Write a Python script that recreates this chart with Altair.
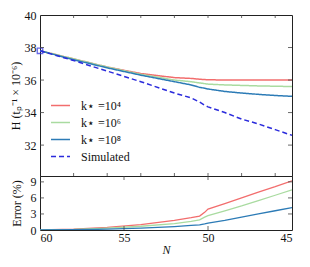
import altair as alt
import pandas as pd

# x positions (N) for all series
N = [60, 58, 56, 54, 52, 51, 50.5, 50.2, 50, 49, 48, 47, 46, 45]

H_sim = [37.8, 37.2, 36.55, 35.9, 35.2, 34.9, 34.65, 34.45, 34.35, 34.0, 33.6, 33.3, 32.95, 32.6]
H_k4 = [37.8, 37.3, 36.8, 36.4, 36.15, 36.1, 36.05, 36.03, 36.02, 36.0, 36.0, 36.0, 36.0, 36.0]
H_k6 = [37.8, 37.3, 36.8, 36.35, 36.0, 35.9, 35.82, 35.78, 35.75, 35.7, 35.67, 35.64, 35.62, 35.6]
H_k8 = [37.8, 37.25, 36.75, 36.3, 35.9, 35.7, 35.55, 35.5, 35.45, 35.3, 35.2, 35.12, 35.05, 35.0]

E_k4 = [0, 0.15, 0.5, 1.0, 1.8, 2.3, 2.6, 3.3, 3.9, 4.95, 6.0, 7.1, 8.1, 9.2]
E_k6 = [0, 0.1, 0.35, 0.7, 1.2, 1.6, 1.9, 2.4, 2.7, 3.6, 4.5, 5.5, 6.5, 7.5]
E_k8 = [0, 0.05, 0.15, 0.35, 0.65, 0.85, 0.95, 1.15, 1.3, 1.8, 2.4, 3.0, 3.6, 4.2]

labels = ["k⋆ =10⁴", "k⋆ =10⁶", "k⋆ =10⁸", "Simulated"]
colors = ["#f26d6d", "#a9dba0", "#2c7bb6", "#2b2bdc"]
dashes = [[1, 0], [1, 0], [1, 0], [5, 3]]

top_xticks = [58, 56, 54, 52, 50, 48, 46]
top_yticks = [32, 34, 36, 38]
top_ylabels = [32, 34, 36, 38, 40]
bot_xticks = [55, 50]
bot_xlabels = [60, 55, 50, 45]
bot_ylabels = [0, 3, 6, 9]
bot_yticks = [3, 6, 9]

W = 252
H_TOP = 161
H_BOT = 54
FONT = "Liberation Serif"

rows = []
for lab, ser in zip(labels, [H_k4, H_k6, H_k8, H_sim]):
    for n, v in zip(N, ser):
        rows.append({"N": n, "H": v, "series": lab})
df_top = pd.DataFrame(rows)

rows = []
for lab, ser in zip(labels[:3], [E_k4, E_k6, E_k8]):
    for n, v in zip(N, ser):
        rows.append({"N": n, "E": v, "series": lab})
df_bot = pd.DataFrame(rows)

xs = alt.Scale(domain=[60, 45])
ys_top = alt.Scale(domain=[30.1, 40], nice=False, zero=False)
ys_bot = alt.Scale(domain=[0, 10.1], nice=False)

color_scale = alt.Scale(domain=labels, range=colors)
dash_scale = alt.Scale(domain=labels, range=dashes)

ax_top_y = alt.Axis(
    values=top_ylabels, ticks=False, domain=False, grid=False, labelOverlap=False,
    labelPadding=4, titlePadding=2, title="H (tₚ⁻¹ × 10⁻⁶)")
ax_bot_x = alt.Axis(
    values=bot_xlabels, ticks=False, domain=False, grid=False, labelOverlap=False,
    labelPadding=2, titlePadding=1, title="N", titleFontStyle="italic")
ax_bot_y = alt.Axis(
    values=bot_ylabels, ticks=False, domain=False, grid=False, labelOverlap=False,
    labelPadding=4, titlePadding=7, title="Error (%)")

legend = alt.Legend(
    title=None, orient="none", legendX=10, legendY=80,
    symbolType="stroke", symbolSize=360, symbolStrokeWidth=1.6,
    labelFont=FONT, labelFontSize=12, rowPadding=0, labelOffset=10,
)

top_lines = alt.Chart(df_top).mark_line(strokeWidth=1.5, clip=True).encode(
    x=alt.X("N:Q", scale=xs, axis=None),
    y=alt.Y("H:Q", scale=ys_top, axis=ax_top_y),
    color=alt.Color("series:N", scale=color_scale, sort=labels, legend=legend),
    strokeDash=alt.StrokeDash("series:N", scale=dash_scale, sort=labels, legend=legend),
    order=alt.Order("N:Q", sort="descending"),
)

marker = alt.Chart(pd.DataFrame({"N": [N[0]], "H": [H_sim[0]]})).mark_point(
    shape="square", filled=False, color=colors[3], size=30, strokeWidth=1.3
).encode(x=alt.X("N:Q", scale=xs, axis=None), y=alt.Y("H:Q", scale=ys_top, axis=ax_top_y))


def xtick_layers(vals, height, length, axis):
    d = pd.DataFrame({"v": vals})
    a = alt.Chart(d).mark_rule(color="#444", strokeWidth=0.8).encode(
        x=alt.X("v:Q", scale=xs, axis=axis), y=alt.value(0), y2=alt.value(length))
    b = alt.Chart(d).mark_rule(color="#444", strokeWidth=0.8).encode(
        x=alt.X("v:Q", scale=xs, axis=axis), y=alt.value(height - length), y2=alt.value(height))
    return [a, b]


def ytick_layers(vals, scale, length, axis):
    d = pd.DataFrame({"v": vals})
    a = alt.Chart(d).mark_rule(color="#444", strokeWidth=0.8).encode(
        y=alt.Y("v:Q", scale=scale, axis=axis), x=alt.value(0), x2=alt.value(length))
    b = alt.Chart(d).mark_rule(color="#444", strokeWidth=0.8).encode(
        y=alt.Y("v:Q", scale=scale, axis=axis), x=alt.value(W - length), x2=alt.value(W))
    return [a, b]


top = alt.layer(
    top_lines, marker,
    *xtick_layers(top_xticks, H_TOP, 3, None),
    *ytick_layers(top_yticks, ys_top, 4, ax_top_y),
).properties(width=W, height=H_TOP)

bot_lines = alt.Chart(df_bot).mark_line(strokeWidth=1.3, clip=True).encode(
    x=alt.X("N:Q", scale=xs, axis=ax_bot_x),
    y=alt.Y("E:Q", scale=ys_bot, axis=ax_bot_y),
    color=alt.Color("series:N", scale=color_scale, sort=labels, legend=None),
    order=alt.Order("N:Q", sort="descending"),
)

bot = alt.layer(
    bot_lines,
    *xtick_layers(bot_xticks, H_BOT, 4, ax_bot_x),
    *ytick_layers(bot_yticks, ys_bot, 4, ax_bot_y),
).properties(width=W, height=H_BOT)

chart = alt.vconcat(top, bot, spacing=0, bounds="flush").resolve_scale(
    color="independent", strokeDash="independent"
).properties(padding=0).configure_view(
    stroke="#222", strokeWidth=1
).configure_axis(
    labelFont=FONT, labelFontSize=12, labelColor="#111",
    titleFont=FONT, titleFontSize=12, titleFontWeight="normal", titleColor="#111",
).configure_legend(labelColor="#111")

chart.save("out.html", embed_options={"renderer": "svg", "actions": False})
